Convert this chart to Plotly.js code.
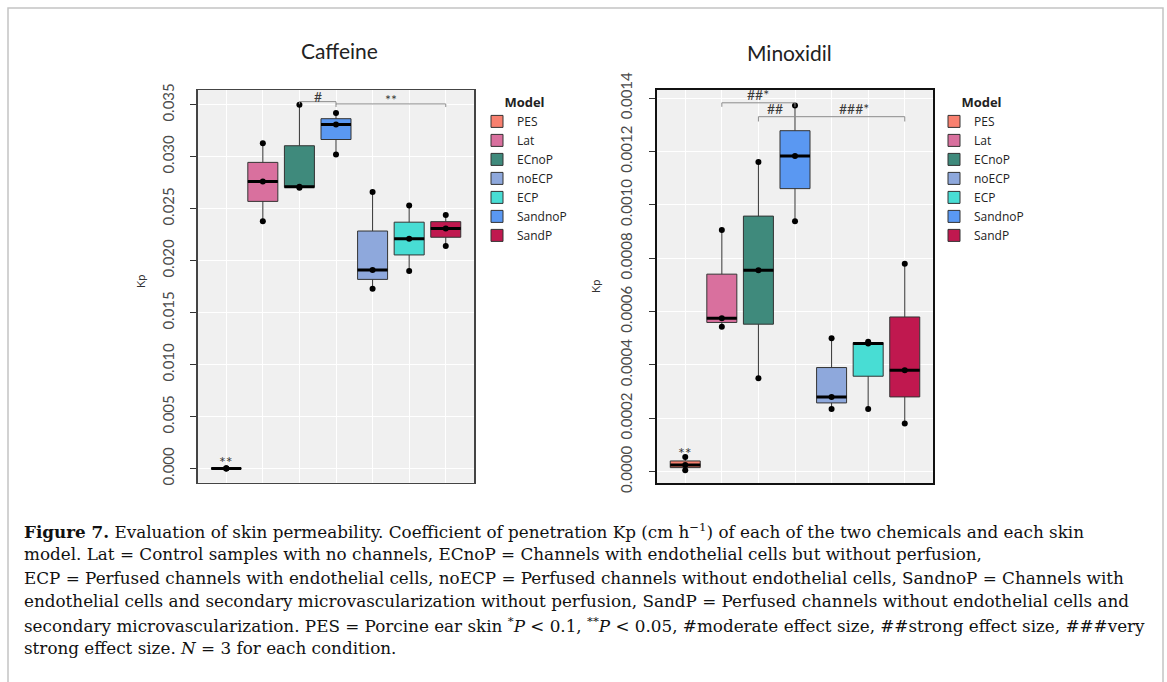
<!DOCTYPE html>
<html>
<head>
<meta charset="utf-8">
<script src="https://cdn.plot.ly/plotly-3.0.1.min.js"></script>
<style>
html,body{margin:0;padding:0;background:#fff;}
#chart{width:1167px;height:682px;}
</style>
</head>
<body>
<div id="chart"></div>
<script>
// ---------- data ----------
const models = ["PES", "Lat", "ECnoP", "noECP", "ECP", "SandnoP", "SandP"];        // legend order
const xOrder = ["PES", "Lat", "ECnoP", "SandnoP", "noECP", "ECP", "SandP"];        // position on the x axis
const modelColors = ["#F8806F", "#D9709E", "#3F8A7C", "#8EA8DC", "#48DDD4", "#5A98F2", "#C0184F"];

// three replicates (N = 3) per model, same order as `models`
const caffeineKp = [
  [0.00001, 0.00002, 0.00003],
  [0.0238, 0.0276, 0.0313],
  [0.0270, 0.0271, 0.0350],
  [0.0173, 0.0191, 0.0266],
  [0.0190, 0.0221, 0.0253],
  [0.0302, 0.0331, 0.0342],
  [0.0214, 0.0231, 0.0244]
];
const minoxidilKp = [
  [0.000005, 0.000025, 0.000055],
  [0.000543, 0.000575, 0.000905],
  [0.000350, 0.000755, 0.001160],
  [0.000235, 0.000280, 0.000500],
  [0.000235, 0.000480, 0.000487],
  [0.000938, 0.001183, 0.001372],
  [0.000180, 0.000380, 0.000779]
];

const caffeineTicks = [0, 0.005, 0.010, 0.015, 0.020, 0.025, 0.030, 0.035];
const minoxidilTicks = [0, 0.0002, 0.0004, 0.0006, 0.0008, 0.0010, 0.0012, 0.0014];

// significance brackets: from model, to model, bracket level, label
const caffeineBrackets = [
  {from: "ECnoP", to: "SandnoP", level: 0.03529, drop: 0.00025, label: "#", labelY: 0.03578},
  {from: "SandnoP", to: "SandP", level: 0.03507, drop: 0.00030, label: "**", labelY: 0.03552}
];
const caffeineMarks = [{model: "PES", y: 0.0007, label: "**"}];

const minoxidilBrackets = [
  {from: "Lat", to: "SandnoP", level: 0.001382, drop: 0.000015, label: "##*", labelY: 0.001413},
  {from: "ECnoP", to: "SandP", level: 0.001330, drop: 0.000018, label: null}
];
const minoxidilMarks = [
  {model: "PES", y: 0.000070, label: "**"},
  {model: "ECnoP", x: 0.46, y: 0.001359, label: "##"},
  {model: "SandnoP", x: 1.62, y: 0.001359, label: "###*"}
];

const caption = [
  "<b>Figure 7.</b> Evaluation of skin permeability. Coefficient of penetration Kp (cm h<sup>−1</sup>) of each of the two chemicals and each skin",
  "model. Lat = Control samples with no channels, ECnoP = Channels with endothelial cells but without perfusion,",
  "ECP = Perfused channels with endothelial cells, noECP = Perfused channels without endothelial cells, SandnoP = Channels with",
  "endothelial cells and secondary microvascularization without perfusion, SandP = Perfused channels without endothelial cells and",
  "secondary microvascularization. PES = Porcine ear skin <sup>*</sup><i>P</i> &lt; 0.1, <sup>**</sup><i>P</i> &lt; 0.05, #moderate effect size, ##strong effect size, ###very",
  "strong effect size. <i>N</i> = 3 for each condition."
];

// ---------- helpers ----------
const W = 1167, H = 682;
const px = v => v / W;
const py = v => 1 - v / H;
const pos = m => xOrder.indexOf(m);
const median = a => { const s = [...a].sort((p, q) => p - q); return s[Math.floor(s.length / 2)]; };
const BOXW = 0.82;
const FONT = "Lato, 'Open Sans', sans-serif";
const LEGFONT = "'Open Sans', Lato, sans-serif";

const traces = [];
const shapes = [];
const annotations = [];

function addPanel(values, xa, ya, legendName) {
  models.forEach((m, i) => {
    traces.push({
      type: "box",
      name: m,
      y: values[i],
      x: values[i].map(() => pos(m)),
      xaxis: xa, yaxis: ya,
      legend: legendName,
      fillcolor: modelColors[i],
      line: {color: "#333333", width: 1},
      marker: {color: modelColors[i]},
      boxpoints: false,
      quartilemethod: "inclusive",
      whiskerwidth: 0,
      width: BOXW,
      hoverinfo: "y"
    });
  });
  // thick median bars
  const mx = [], my = [];
  models.forEach((m, i) => {
    const md = median(values[i]);
    mx.push(pos(m) - BOXW / 2, pos(m) + BOXW / 2, null);
    my.push(md, md, null);
  });
  traces.push({type: "scatter", mode: "lines", x: mx, y: my, xaxis: xa, yaxis: ya,
    line: {color: "#000", width: 3}, showlegend: false, hoverinfo: "skip"});
  // observations
  const ox = [], oy = [];
  models.forEach((m, i) => values[i].forEach(v => { ox.push(pos(m)); oy.push(v); }));
  traces.push({type: "scatter", mode: "markers", x: ox, y: oy, xaxis: xa, yaxis: ya,
    marker: {color: "#000", size: 6}, showlegend: false});
}

function addBrackets(brackets, marks, xa, ya) {
  brackets.forEach(b => {
    const x1 = pos(b.from), x2 = pos(b.to);
    shapes.push({type: "path", xref: xa, yref: ya,
      path: `M ${x1},${b.level - b.drop} L ${x1},${b.level} L ${x2},${b.level} L ${x2},${b.level - b.drop}`,
      line: {color: "#8c8c8c", width: 1}});
    if (b.label) annotations.push({xref: xa, yref: ya, x: (x1 + x2) / 2, y: b.labelY, text: b.label,
      xanchor: "center", yanchor: "middle",
      showarrow: false, font: {family: FONT, size: 14, color: "#3a3a3a"}});
  });
  marks.forEach(k => {
    annotations.push({xref: xa, yref: ya, x: pos(k.model) + (k.x || 0), y: k.y, text: k.label,
      xanchor: "center", yanchor: "middle",
      showarrow: false, font: {family: FONT, size: k.model === "PES" ? 16 : 14, color: "#3a3a3a"}});
  });
}

addPanel(caffeineKp, "x", "y", "legend");
addPanel(minoxidilKp, "x2", "y2", "legend2");
addBrackets(caffeineBrackets, caffeineMarks, "x", "y");
addBrackets(minoxidilBrackets, minoxidilMarks, "x2", "y2");

// titles and axis labels
annotations.push({xref: "paper", yref: "paper", x: px(340), y: py(50), xanchor: "center", yanchor: "middle",
  text: "Caffeine", showarrow: false, font: {family: FONT, size: 21, color: "#222"}});
annotations.push({xref: "paper", yref: "paper", x: px(789), y: py(52), xanchor: "center", yanchor: "middle",
  text: "Minoxidil", showarrow: false, font: {family: FONT, size: 21, color: "#222"}});
annotations.push({xref: "paper", yref: "paper", x: px(140), y: py(282), xanchor: "center", yanchor: "middle",
  text: "Kp", textangle: -90, showarrow: false, font: {family: FONT, size: 11, color: "#333"}});
annotations.push({xref: "paper", yref: "paper", x: px(595), y: py(287), xanchor: "center", yanchor: "middle",
  text: "Kp", textangle: -90, showarrow: false, font: {family: FONT, size: 11, color: "#333"}});

// caption
caption.forEach((line, i) => {
  annotations.push({xref: "paper", yref: "paper", x: px(22), y: py(531 + i * 23.4), xanchor: "left", yanchor: "middle",
    text: line, showarrow: false, align: "left",
    font: {family: "'DejaVu Serif', 'Liberation Serif', serif", size: 16.8, color: "#111"}});
});

// outer figure border
shapes.push({type: "rect", xref: "paper", yref: "paper", x0: px(8), x1: px(1163), y0: py(700), y1: py(8),
  line: {color: "#c4c4c4", width: 1.5}, fillcolor: "rgba(0,0,0,0)"});

const yTickFont = {family: FONT, size: 15, color: "#4a4a4a"};
const xCommon = {range: [-0.78, 6.78], tickvals: [0, 1, 2, 3, 4, 5, 6], showticklabels: false, ticks: "",
  showgrid: true, gridcolor: "#ffffff", gridwidth: 1, zeroline: false, showline: true, mirror: true};
const yCommon = {showgrid: true, gridcolor: "#ffffff", gridwidth: 1, zeroline: false, showline: true, mirror: true,
  ticks: "outside", ticklen: 6, tickwidth: 1, tickcolor: "#333", tickangle: -90, tickfont: yTickFont};

const legendCommon = {xanchor: "left", yanchor: "top", bgcolor: "rgba(0,0,0,0)",
  font: {family: LEGFONT, size: 12, color: "#222"}, tracegroupgap: 0, itemwidth: 30,
  title: {text: "<b>Model</b>", side: "top center", font: {family: LEGFONT, size: 13, color: "#222"}}};

const layout = {
  width: W, height: H,
  margin: {l: 0, r: 0, t: 0, b: 0},
  paper_bgcolor: "#ffffff",
  plot_bgcolor: "#f0f0f0",
  showlegend: true,
  boxmode: "overlay",
  xaxis: Object.assign({}, xCommon, {domain: [px(197.7), px(474.3)], anchor: "y", linecolor: "#444", linewidth: 1.5}),
  yaxis: Object.assign({}, yCommon, {domain: [py(482.7), py(90)], anchor: "x", range: [-0.00135, 0.03641],
    tickvals: caffeineTicks, tickformat: ".3f", linecolor: "#444", linewidth: 1.5, ticklabelstandoff: 10}),
  xaxis2: Object.assign({}, xCommon, {domain: [px(656.7), px(933.3)], anchor: "y2", linecolor: "#111", linewidth: 2}),
  yaxis2: Object.assign({}, yCommon, {domain: [py(483.3), py(90)], anchor: "x2", range: [-0.0000437, 0.00143],
    tickvals: minoxidilTicks, tickformat: ".4f", linecolor: "#111", linewidth: 2, ticklabelstandoff: 11}),
  legend: Object.assign({}, legendCommon, {x: px(477), y: py(90)}),
  legend2: Object.assign({}, legendCommon, {x: px(934), y: py(90)}),
  shapes: shapes,
  annotations: annotations
};

Plotly.newPlot("chart", traces, layout, {displayModeBar: false, staticPlot: true});
</script>
</body>
</html>
